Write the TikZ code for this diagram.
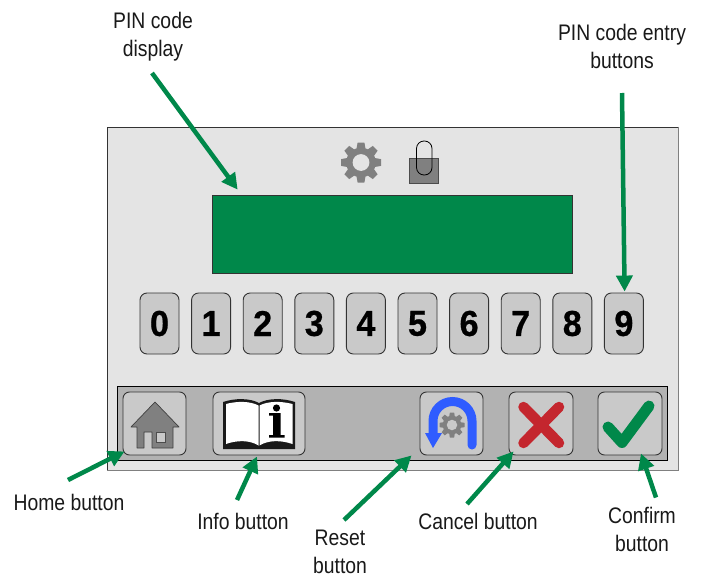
\documentclass[tikz,border=0pt]{standalone}
\usepackage{fontspec}
\setmainfont{Liberation Sans}
\newfontfamily\calloutfont[FakeStretch=0.86]{Liberation Sans}
\newfontfamily\digitfont[FakeStretch=0.95,FakeBold=0.7]{Liberation Sans Bold}
\usetikzlibrary{arrows.meta}
\definecolor{pgreen}{HTML}{00884A}
\definecolor{panelgray}{HTML}{E4E4E4}
\definecolor{bargray}{HTML}{B2B2B2}
\definecolor{btngray}{HTML}{C9C9C9}
\definecolor{icongray}{HTML}{808080}
\definecolor{rblue}{HTML}{2F5CFF}
\definecolor{cred}{HTML}{C4262E}
\newcommand{\gearicon}[4]{%
  \begin{scope}[shift={(#1,#2)}]
    \fill[icongray] (0,0) circle ({0.74*#3});
    \foreach \a in {0,45,...,315}
      \fill[icongray,rotate=\a] ({-0.24*#3},{0.6*#3}) -- ({-0.17*#3},{#3}) -- ({0.17*#3},{#3}) -- ({0.24*#3},{0.6*#3}) -- cycle;
    \fill[#4] (0,0) circle ({0.42*#3});
  \end{scope}}
\tikzset{
  x=1pt,y=-1pt,
  callout/.style={font=\calloutfont\fontsize{22.5}{28}\selectfont,align=center,inner sep=0pt,text=black!90},
  callarrow/.style={pgreen,line width=4.5pt,-{Triangle[length=16pt,width=16pt]}},
  softkey/.style={draw=black!80,fill=btngray,line width=0.9pt,rounded corners=6.5pt,inner sep=0pt,minimum height=63pt},
  digitkey/.style={softkey,minimum width=39pt,minimum height=61pt,rounded corners=7pt,font=\digitfont\fontsize{36}{36}\selectfont},
}
\begin{document}
\begin{tikzpicture}
\useasboundingbox (0,0) rectangle (704,578);
\fill[white] (0,0) rectangle (704,578);
% panel
\node[fill=panelgray,draw=black!80,line width=0.7pt,minimum width=571pt,minimum height=343pt,inner sep=0pt] (panel) at (392.5,298.5) {};
\draw[icongray,line width=1.6pt] (panel.north east) -- (panel.south east) -- (panel.south west);
% status icons
\gearicon{361}{162.5}{20}{panelgray}
\fill[icongray,draw=black!70,line width=0.7pt] (409,158) rectangle (438,183);
\draw[black,line width=0.8pt,rounded corners=7.5pt] (416.5,141) rectangle (432,175);
% display
\node[fill=pgreen,draw=black!80,line width=0.7pt,minimum width=360pt,minimum height=78pt,inner sep=0pt] (disp) at (392,234) {};
% digit keys
\foreach \i in {0,...,9}
  \node[digitkey] (d\i) at ({159.5+51.6*\i},323.5) {\raisebox{-1.5pt}{\i}};
% bar
\node[fill=bargray,draw=black,line width=0.8pt,minimum width=550pt,minimum height=74pt,inner sep=0pt] (bar) at (392,423) {};
% bottom keys
\node[softkey,minimum width=63pt] (home) at (154.5,423.5) {};
\node[softkey,minimum width=92pt] (info) at (259,423.5) {};
\node[softkey,minimum width=63pt] (reset) at (451.5,423.5) {};
\node[softkey,minimum width=64pt] (cancel) at (541,423.5) {};
\node[softkey,minimum width=64pt] (confirm) at (630,423.5) {};
% home icon
\draw[fill=icongray,draw=black!75,line width=0.7pt,line join=round]
  (155,402) -- (179,427) -- (173,427) -- (173,448) -- (152,448) -- (152,432) -- (144,432) -- (144,448) -- (137,448) -- (137,427) -- (131,427) -- cycle;
\fill[btngray,draw=black!70,line width=0.5pt] (156,432) rectangle (165,442);
% info icon
\fill[black!90] (223,402) .. controls (235,398) and (250,398) .. (259,403) .. controls (268,398) and (283,398) .. (295,402) -- (295,449) -- (223,449) -- cycle;
\fill[white] (226,404) .. controls (237,401) and (250,401) .. (258.5,405.5) -- (258.5,445.5) .. controls (250,440) and (237,440) .. (226,444) -- cycle;
\fill[white] (292.5,404) .. controls (281,401) and (268,401) .. (259.5,405.5) -- (259.5,445.5) .. controls (268,440) and (281,440) .. (292.5,444) -- cycle;
\fill[black] (276.5,408) circle (3.6);
\fill[black] (269,413) -- (280.5,413) -- (280.5,435) -- (284.5,435) -- (284.5,437.5) -- (269,437.5) -- (269,435) -- (273,435) -- (273,415.5) -- (269,415.5) -- cycle;
% reset icon
\draw[rblue,line width=9pt,line cap=round] (472,445) -- (472,421) arc[start angle=0,end angle=-180,radius=19.5] -- (433,434);
\fill[rblue] (425,433) -- (442,433) -- (433,448) -- cycle;
\gearicon{452}{425}{12.5}{btngray}
% cancel icon
\draw[cred,line width=10.5pt,line cap=round] (523.5,407) -- (559,443) (559,407) -- (523.5,443);
% confirm icon
\draw[pgreen,line width=11pt,line cap=round,line join=round] (608,427) -- (622,442.5) -- (649,406);
% labels
\node[callout] (lblpin) at (153,37) {PIN code\\display};
\node[callout] (lblentry) at (622,46.5) {PIN code entry\\buttons};
\node[callout] (lblhome) at (69,502) {Home button};
\node[callout] (lblinfo) at (243,521) {Info button};
\node[callout] (lblreset) at (340,552) {Reset\\button};
\node[callout] (lblcancel) at (478,521) {Cancel button};
\node[callout] (lblconfirm) at (642,529.5) {Confirm\\button};
% callout arrows
\draw[callarrow] ([shift={(-1,36)}]lblpin.center) -- ([shift={(26,-5)}]disp.north west);
\draw[callarrow] ([shift={(0,46.5)}]lblentry.center) -- ([shift={(0.7,-1)}]d9.north);
\draw[callarrow] ([shift={(-1,-22)}]lblhome.center) -- ([shift={(2,-4)}]home.south west);
\draw[callarrow] ([shift={(-6,-21)}]lblinfo.center) -- ([shift={(-2,1)}]info.south);
\draw[callarrow] ([shift={(4,-32)}]lblreset.center) -- ([shift={(-8,0)}]reset.south west);
\draw[callarrow] ([shift={(-11,-17)}]lblcancel.center) -- ([shift={(5,-4)}]cancel.south west);
\draw[callarrow] ([shift={(14,-32)}]lblconfirm.center) -- ([shift={(11,-2)}]confirm.south);
\end{tikzpicture}
\end{document}
